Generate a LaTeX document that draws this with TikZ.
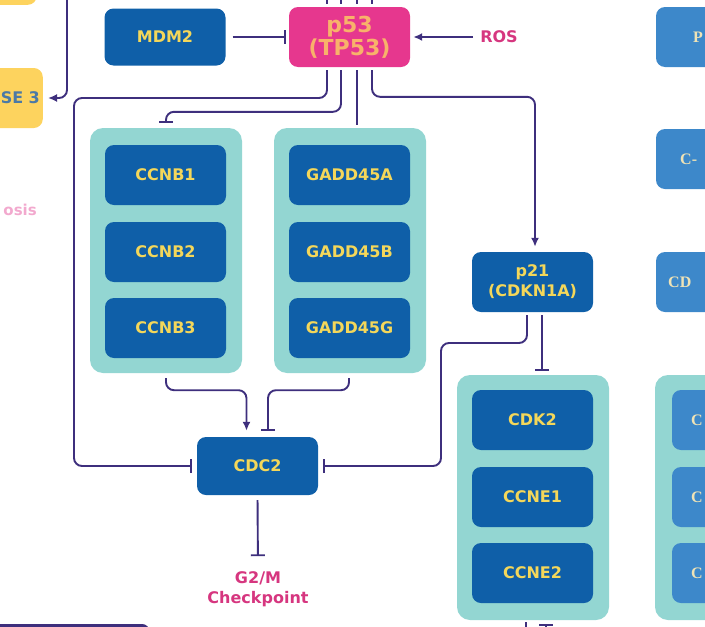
\documentclass[tikz,border=0pt]{standalone}
\usepackage{fontspec}
\setmainfont{DejaVu Sans}
\newfontfamily\cutfont{Liberation Serif}
\usetikzlibrary{arrows.meta}
\definecolor{geneblue}{HTML}{0F5FA8}
\definecolor{genetext}{HTML}{F4D75A}
\definecolor{grpteal}{HTML}{93D6D2}
\definecolor{ppink}{HTML}{E6378E}
\definecolor{ptext}{HTML}{F8B26A}
\definecolor{linkpurple}{HTML}{3E2F7D}
\definecolor{labpink}{HTML}{D6367F}
\definecolor{softpink}{HTML}{F2A9CE}
\definecolor{casp}{HTML}{FDD35E}
\definecolor{casptext}{HTML}{4B79A6}
\definecolor{sideblue}{HTML}{3D88CA}
\definecolor{sidetext}{HTML}{EFE3B6}
\begin{document}
\begin{tikzpicture}[x=1pt, y=-1pt,
	gene/.style={rectangle, rounded corners=9pt, fill=geneblue, text=genetext, font=\bfseries\fontsize{16}{20}\selectfont, minimum width=121pt, minimum height=60pt, inner sep=0pt, align=center},
	grp/.style={rectangle, rounded corners=13pt, fill=grpteal, minimum width=152pt, minimum height=245pt},
	side/.style={gene, fill=sideblue},
	sidelab/.style={text=sidetext, font=\cutfont\bfseries\fontsize{16}{18}\selectfont, inner sep=0pt, anchor=west},
	lab/.style={text=labpink, font=\bfseries\fontsize{16}{20}\selectfont, align=center, inner sep=0pt},
	link/.style={draw=linkpurple, line width=1.9pt, rounded corners=8pt},
	inh/.style={-{Bar[width=14pt, line width=1.9pt]}},
	act/.style={-{Latex[length=9pt, width=8pt]}}]
	\useasboundingbox (0,0) rectangle (705,627);

	% groups
	\node[grp] (ccnb) at (166,250.5) {};
	\node[grp] (gadd) at (350,250.5) {};
	\node[grp] (ccne) at (533,497.5) {};
	\node[grp] (rgrp) at (731,497.5) {};

	\node[gene, minimum height=57pt] (mdm2) at (165,37) {MDM2};
	\node[gene, fill=ppink, text=ptext, font=\bfseries\fontsize{22}{23}\selectfont] (p53) at (349.5,37) {p53\\(TP53)};
	\node[lab] (ros) at (499,37) {ROS};

	\node[gene] (ccnb1) at (165.5,175) {CCNB1};
	\node[gene] (ccnb2) at (165.5,252) {CCNB2};
	\node[gene] (ccnb3) at (165.5,328) {CCNB3};
	\node[gene] (gadda) at (349.5,175) {GADD45A};
	\node[gene] (gaddb) at (349.5,252) {GADD45B};
	\node[gene] (gaddg) at (349.5,328) {GADD45G};

	\node[gene] (p21) at (532.5,282) {p21\\(CDKN1A)};
	\node[gene] (cdk2) at (532.5,420) {CDK2};
	\node[gene] (ccne1) at (532.5,497) {CCNE1};
	\node[gene] (ccne2) at (532.5,573) {CCNE2};

	\node[gene, minimum height=58pt] (cdc2) at (257.5,466) {CDC2};
	\node[lab] (g2m) at (258,589) {G2/M\\Checkpoint};

	% left edge
	\node[gene, fill=casp, minimum width=100pt, anchor=south east] (casptop) at (37,5) {};
	\node[gene, fill=casp, text=casptext, minimum width=0pt, text width=80pt, align=right, inner xsep=3pt, anchor=east] (casp3) at (43,98) {SE 3};
	\node[text=softpink, font=\bfseries\fontsize{15}{18}\selectfont, inner sep=0pt, anchor=east] (apop) at (37,210) {osis};
	\draw[linkpurple, line width=3pt, rounded corners=6pt] (-20,625.5) rectangle (148,690);

	% right edge
	\node[side] (s1) at (716.5,37) {};
	\node[sidelab] (s1t) at (693,37) {P};
	\node[side] (s2) at (716.5,159) {};
	\node[sidelab] (s2t) at (680,159) {C-};
	\node[side] (s3) at (716.5,282) {};
	\node[sidelab] (s3t) at (668,282) {CD};
	\node[side] (r1) at (732.5,420) {};
	\node[sidelab] (r1t) at (691,420) {C};
	\node[side] (r2) at (732.5,497) {};
	\node[sidelab] (r2t) at (691,497) {C};
	\node[side] (r3) at (732.5,573) {};
	\node[sidelab] (r3t) at (691,573) {C};

	\coordinate (upleft) at (67,-5);
	\coordinate (top1) at (327,-5);
	\coordinate (top2) at (341,-5);
	\coordinate (top3) at (357,-5);
	\coordinate (top4) at (372,-5);
	\coordinate (ccnedown) at (526,640);
	\coordinate (ccneup) at (546,645);

	\draw[link, act, shorten >=5pt] (upleft) |- (casp3.east);
	\draw[link, shorten >=3pt] (top1) -- ([xshift=-22.5pt]p53.north);
	\draw[link, shorten >=3pt] (top2) -- ([xshift=-8.5pt]p53.north);
	\draw[link, shorten >=3pt] (top3) -- ([xshift=7.5pt]p53.north);
	\draw[link, shorten >=3pt] (top4) -- ([xshift=22.5pt]p53.north);

	\draw[link, inh, shorten <=7pt, shorten >=3pt] (mdm2.east) -- (p53.west);
	\draw[link, act, shorten <=7pt, shorten >=3pt] (ros.west) -- (p53.east);

	\draw[link, inh, shorten <=3pt, shorten >=5pt] ([xshift=-22.5pt]p53.south) |- (74,98) |- (cdc2.west);
	\draw[link, inh, shorten <=3pt, shorten >=5pt] ([xshift=-8.5pt]p53.south) |- ([yshift=16pt]ccnb.north) -- (ccnb.north);
	\draw[link, shorten <=3pt, shorten >=3pt] ([xshift=7.5pt]p53.south) -- ([xshift=7pt]gadd.north);
	\draw[link, act, shorten <=3pt, shorten >=5pt] ([xshift=22.5pt]p53.south) |- ([yshift=155pt,xshift=2.5pt]p21.north) -- ([xshift=2.5pt]p21.north);

	\draw[link, inh, shorten <=3pt, shorten >=5pt] ([xshift=-5.5pt]p21.south) |- (441,343) |- (cdc2.east);
	\draw[link, inh, shorten <=3pt, shorten >=4pt] ([xshift=9.5pt]p21.south) -- ([xshift=9pt]ccne.north);

	\draw[link, act, shorten <=5pt, shorten >=6pt] (ccnb.south) -- ++(0,17) -| ([xshift=-11pt]cdc2.north);
	\draw[link, inh, shorten <=5pt, shorten >=6pt] ([xshift=-1pt]gadd.south) -- ++(0,17) -| ([xshift=10.5pt]cdc2.north);
	\draw[link, inh, shorten <=5pt, shorten >=15pt] (cdc2.south) -- (g2m.north);

	\draw[link, shorten <=2pt] ([xshift=-7pt]ccne.south) -- (ccnedown);
	\draw[link, inh, shorten >=4pt] (ccneup) -- ([xshift=13pt]ccne.south);
\end{tikzpicture}
\end{document}
